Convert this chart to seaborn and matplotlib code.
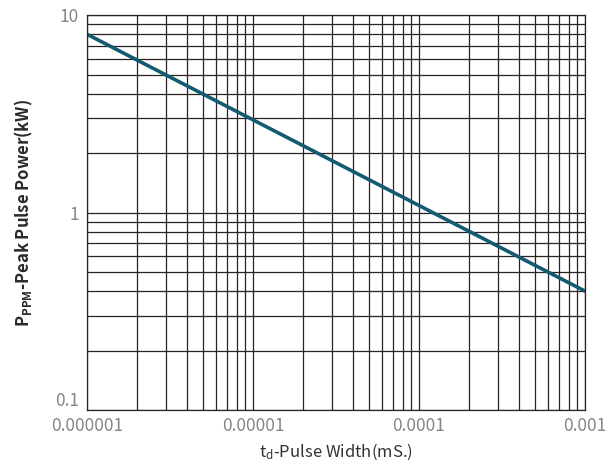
import numpy as np
import pandas as pd
import matplotlib
matplotlib.use("Agg")
import matplotlib.pyplot as plt
import seaborn as sns
from matplotlib.ticker import LogLocator, FixedLocator, FixedFormatter, NullFormatter

# data (straight line on log-log axes)
pulse_width = [1e-6, 1e-3]
peak_power = [8.0, 0.4]

x_ticks = [1e-6, 1e-5, 1e-4, 1e-3]
x_tick_labels = ["0.000001", "0.00001", "0.0001", "0.001"]
y_ticks = [0.1, 1, 10]
y_tick_labels = ["0.1", "1", "10"]

sns.set_theme(style="white")
plt.rcParams['font.family'] = ['Noto Sans CJK SC', 'DejaVu Sans']
plt.rcParams['mathtext.default'] = 'regular'

df = pd.DataFrame({'width': pulse_width, 'power': peak_power})

fig = plt.figure(figsize=(6.14, 4.72), dpi=100)
ax = fig.add_axes([0.1417, 0.1314, 0.8111, 0.8366])

ax.set_xscale('log')
ax.set_yscale('log')
ax.set_xlim(1e-6, 1e-3)
ax.set_ylim(0.1, 10)

# grid: major + minor, all dark
ax.xaxis.set_minor_locator(LogLocator(base=10, subs=np.arange(2, 10)))
ax.yaxis.set_minor_locator(LogLocator(base=10, subs=np.arange(2, 10)))
ax.xaxis.set_minor_formatter(NullFormatter())
ax.yaxis.set_minor_formatter(NullFormatter())
ax.grid(which='both', color='#2b2323', linewidth=0.9)
ax.set_axisbelow(True)

sns.lineplot(data=df, x='width', y='power', ax=ax, color='#145a73', linewidth=2.6)

ax.xaxis.set_major_locator(FixedLocator(x_ticks))
ax.xaxis.set_major_formatter(FixedFormatter(x_tick_labels))
ax.yaxis.set_major_locator(FixedLocator(y_ticks))
ax.yaxis.set_major_formatter(FixedFormatter(y_tick_labels))
ax.tick_params(which='both', length=0, labelsize=12.5, labelcolor='#858585')
ax.tick_params(axis='x', pad=5)
ax.tick_params(axis='y', pad=6)
for lab in ax.get_xticklabels() + ax.get_yticklabels():
    lab.set_fontweight('light')
# the bottom y label sits on the axis line, above the x labels
ax.get_yticklabels()[0].set_verticalalignment('bottom')

for s in ax.spines.values():
    s.set_color('#2b2323')
    s.set_linewidth(0.9)

ax.set_xlabel(r't$_{d}$-Pulse Width(mS.)', fontsize=12, color='#333333', labelpad=5)
ax.set_ylabel(r'P$_{PPM}$-Peak Pulse Power(kW)', fontsize=12, color='#2a2a2a',
              fontweight='bold', labelpad=14)

fig.savefig('out.png', dpi=100)
